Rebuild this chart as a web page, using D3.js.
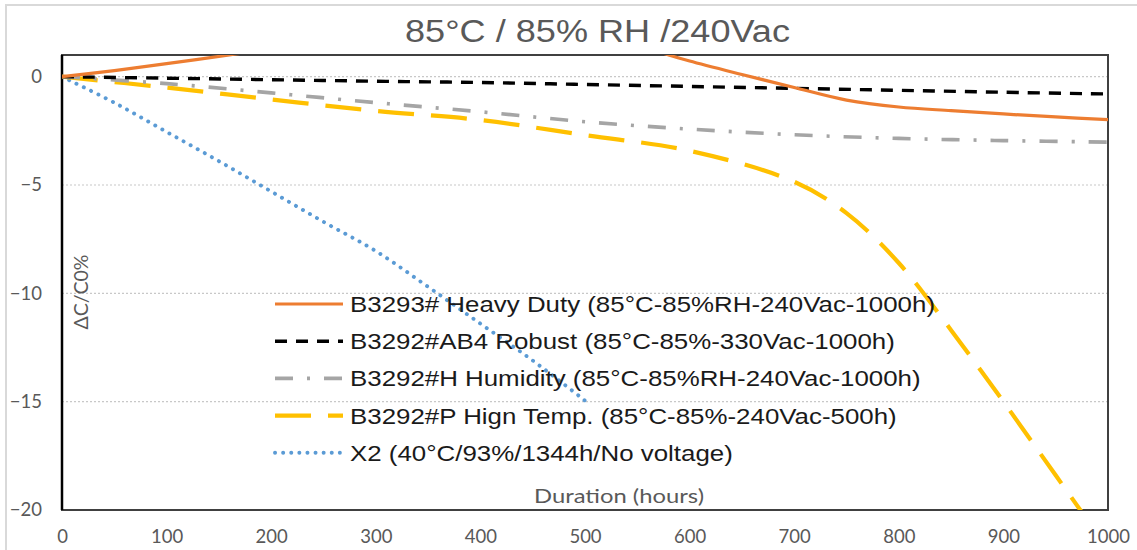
<!DOCTYPE html>
<head>
    <title>85°C / 85% RH /240Vac</title>
    <style>
        body { margin: 0; background: white; }
        svg { display: block; }
        .tick text { font-family: Lato, "Open Sans", sans-serif; font-size: 18.5px; fill: #595959; }
    </style>
    <script src="https://d3js.org/d3.v7.min.js"></script>
</head>
<body>
    <svg width="1137" height="550"></svg>

    <script>
        // values (hours, dC/C0 %)
        var hours = [0, 50, 100, 160, 200, 300, 400, 500, 550, 580, 600, 650, 700, 750, 800, 850, 900, 950, 1000];
        var heavyDuty = [0, 0.28, 0.6, 1.0, 1.3, 1.9, 2.2, 2.0, 1.5, 1.0, 0.72, 0.1, -0.5, -1.08, -1.4, -1.57, -1.72, -1.86, -1.98];

        var hours100 = [0, 100, 200, 300, 400, 500, 600, 700, 800, 900, 1000];
        var robust = [0, -0.07, -0.14, -0.21, -0.27, -0.36, -0.45, -0.54, -0.63, -0.72, -0.8];
        var humidity = [0, -0.32, -0.75, -1.2, -1.62, -2.08, -2.42, -2.68, -2.85, -2.95, -3.02];

        var hoursHT = [0, 100, 200, 300, 400, 500, 600, 700, 750, 800, 850, 900, 950, 1000];
        var highTemp = [0, -0.5, -1.05, -1.58, -2.0, -2.7, -3.42, -4.85, -6.3, -8.6, -11.7, -15.0, -18.4, -21.8];

        var hoursX2 = [0, 50, 100, 150, 200, 250, 300, 350, 400, 450, 500];
        var x2 = [0, -1.2, -2.55, -3.9, -5.3, -6.7, -8.05, -9.7, -11.4, -13.1, -14.95];

        var xTicks = [0, 100, 200, 300, 400, 500, 600, 700, 800, 900, 1000];
        var yTicks = [0, -5, -10, -15, -20];
        var gridValues = [0, -5, -10, -15];

        var series = [
            {name: "B3293# Heavy Duty (85°C-85%RH-240Vac-1000h)", x: hours, y: heavyDuty, color: "#ED7D31", width: 3.2, dash: null, cap: "butt"},
            {name: "B3292#AB4 Robust (85°C-85%-330Vac-1000h)", x: hours100, y: robust, color: "#000000", width: 3.4, dash: "12,9", cap: "butt"},
            {name: "B3292#H Humidity (85°C-85%RH-240Vac-1000h)", x: hours100, y: humidity, color: "#A5A5A5", width: 3.6, dash: "18,14,3,14", cap: "butt"},
            {name: "B3292#P Hign Temp. (85°C-85%-240Vac-500h)", x: hoursHT, y: highTemp, color: "#FFC000", width: 4.2, dash: "36,17", cap: "butt"},
            {name: "X2 (40°C/93%/1344h/No voltage)", x: hoursX2, y: x2, color: "#5B9BD5", width: 3.9, dash: "0.1,8", cap: "round"}
        ];

        var svg = d3.select("svg");
        var m = {left: 62, right: 1108, top: 55, bottom: 510};

        var xs = d3.scaleLinear().domain([0, 1000]).range([m.left, m.right]);
        var ys = d3.scaleLinear().domain([-20, 1]).range([m.bottom, m.top]);

        // stretch a text horizontally to the width it has in the picture
        function fit(sel, w) {
            sel.attr("textLength", w).attr("lengthAdjust", "spacingAndGlyphs");
        }

        // outer chart frame
        svg.append("rect")
            .attr("x", 6).attr("y", 5).attr("width", 1140).attr("height", 560)
            .attr("fill", "white").attr("stroke", "#d9d9d9").attr("stroke-width", 2);

        // title
        svg.append("text")
            .attr("x", 405).attr("y", 42)
            .attr("font-family", "Liberation Sans, Arial, sans-serif")
            .attr("font-size", 31)
            .attr("fill", "#595959")
            .text("85°C / 85% RH /240Vac")
            .call(fit, 385);

        // grid lines
        svg.append("g").selectAll("line")
            .data(gridValues)
            .join("line")
            .attr("x1", m.left).attr("x2", m.right)
            .attr("y1", d => ys(d)).attr("y2", d => ys(d))
            .attr("stroke", "#c8c8c8").attr("stroke-width", 1.2)
            .attr("stroke-dasharray", "2,2");

        // axes (labels only, lines drawn as frame)
        var xAxis = svg.append("g")
            .attr("transform", "translate(0," + m.bottom + ")")
            .call(d3.axisBottom(xs).tickValues(xTicks).tickFormat(d3.format("d")).tickSize(0).tickPadding(20));
        xAxis.select(".domain").remove();

        var yAxis = svg.append("g")
            .attr("transform", "translate(" + m.left + ",0)")
            .call(d3.axisLeft(ys).tickValues(yTicks).tickFormat(d3.format("d")).tickSize(0).tickPadding(20));
        yAxis.select(".domain").remove();

        // plot frame
        svg.append("rect")
            .attr("x", m.left).attr("y", m.top).attr("width", m.right - m.left).attr("height", m.bottom - m.top)
            .attr("fill", "none").attr("stroke", "#404040").attr("stroke-width", 2);
        svg.append("line")
            .attr("x1", m.left).attr("x2", m.left).attr("y1", m.top).attr("y2", m.bottom)
            .attr("stroke", "black").attr("stroke-width", 2.5);

        // axis titles
        svg.append("text")
            .attr("transform", "translate(88,292) rotate(-90)")
            .attr("text-anchor", "middle")
            .attr("font-family", "Lato, Open Sans, sans-serif")
            .attr("font-size", 19)
            .attr("fill", "#595959")
            .text("ΔC/C0%")
            .call(fit, 75);

        svg.append("text")
            .attr("x", 619).attr("y", 503)
            .attr("text-anchor", "middle")
            .attr("font-family", "Lato, Open Sans, sans-serif")
            .attr("font-size", 19)
            .attr("fill", "#595959")
            .text("Duration (hours)")
            .call(fit, 170);

        // clip for the curves
        svg.append("clipPath").attr("id", "plot")
            .append("rect")
            .attr("x", m.left).attr("y", m.top).attr("width", m.right - m.left).attr("height", m.bottom - m.top);

        var line = d3.line()
            .x(d => xs(d[0]))
            .y(d => ys(d[1]))
            .curve(d3.curveCatmullRom.alpha(0.5));

        var curves = svg.append("g").attr("clip-path", "url(#plot)");
        series.slice().reverse().forEach(function (s) {
            curves.append("path")
                .attr("d", line(s.x.map((h, i) => [h, s.y[i]])))
                .attr("fill", "none")
                .attr("stroke", s.color)
                .attr("stroke-width", s.width)
                .attr("stroke-linecap", s.cap)
                .attr("stroke-dasharray", s.dash);
        });

        // legend (text in the picture is stretched, same factor for every row)
        var legend = svg.append("g");
        var stretch = null;
        series.forEach(function (s, i) {
            var y = 304 + i * 37.2;
            legend.append("line")
                .attr("x1", 275).attr("x2", 343)
                .attr("y1", y).attr("y2", y)
                .attr("stroke", s.color)
                .attr("stroke-width", s.width)
                .attr("stroke-linecap", s.cap)
                .attr("stroke-dasharray", s.dash);
            var t = legend.append("text")
                .attr("x", 350).attr("y", y + 8)
                .attr("font-family", "Liberation Sans, Arial, sans-serif")
                .attr("font-size", 22.5)
                .attr("fill", "#1a1a1a")
                .text(s.name);
            var w = t.node().getComputedTextLength();
            if (stretch === null) stretch = 585 / w;
            t.call(fit, w * stretch);
        });
    </script>
</body>
</html>
